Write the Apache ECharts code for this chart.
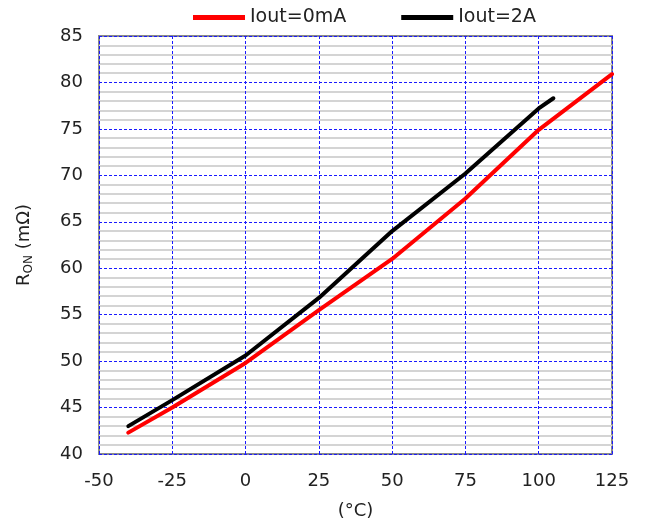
<!DOCTYPE html>
<html>
<head>
<meta charset="utf-8">
<script src="https://cdn.jsdelivr.net/npm/echarts@6/dist/echarts.min.js"></script>
<style>html,body{margin:0;padding:0;background:#fff}#c{width:646px;height:525px}</style>
</head>
<body>
<div id="c"></div>
<script>
const seriesNames = ['Iout=0mA', 'Iout=2A'];
const tempRed = [-40, -25, 0, 25, 50, 75, 100, 125];
const ronRed = [42.3, 45.0, 49.8, 55.5, 61.0, 67.5, 74.9, 80.9];
const tempBlack = [-40, -25, 0, 25, 50, 75, 100, 105];
const ronBlack = [43.0, 45.8, 50.6, 56.8, 64.0, 70.2, 77.2, 78.3];
const xTicks = [-50, -25, 0, 25, 50, 75, 100, 125];
const yTicks = [40, 45, 50, 55, 60, 65, 70, 75, 80, 85];

const font = 'DejaVu Sans';
const chart = echarts.init(document.getElementById('c'));
chart.setOption({
  animation: false,
  textStyle: { fontFamily: font },
  legend: {
    top: 3,
    left: 188,
    itemWidth: 52,
    itemHeight: 5,
    itemGap: 55,
    icon: 'rect',
    textStyle: { fontFamily: font, fontSize: 19, color: '#222' },
    data: seriesNames
  },
  grid: {
    left: 99, right: 34, top: 36, bottom: 70,
    show: true, borderColor: '#8a8a8a', borderWidth: 2, backgroundColor: 'transparent'
  },
  xAxis: {
    type: 'value',
    min: xTicks[0], max: xTicks[xTicks.length - 1], interval: 25,
    name: '(°C)', nameLocation: 'middle', nameGap: 48,
    nameTextStyle: { fontFamily: font, fontSize: 18, color: '#222' },
    axisLine: { show: false },
    axisTick: { show: false },
    axisLabel: { fontFamily: font, fontSize: 18, color: '#222', margin: 18 },
    splitLine: { show: true, lineStyle: { color: '#1a1aff', width: 1, type: [3, 2] } }
  },
  yAxis: {
    type: 'value',
    min: yTicks[0], max: yTicks[yTicks.length - 1], interval: 5,
    name: '{r|R}{s|ON}{r| (mΩ)}', nameLocation: 'middle', nameGap: 64, nameRotate: 90,
    nameTextStyle: {
      rich: {
        r: { fontFamily: font, fontSize: 18, color: '#222' },
        s: { fontFamily: font, fontSize: 12, color: '#222', padding: [10, 0, 0, 0] }
      }
    },
    axisLine: { show: false },
    axisTick: { show: false },
    axisLabel: { fontFamily: font, fontSize: 18, color: '#222', margin: 16 },
    minorTick: { show: false, splitNumber: 5 },
    minorSplitLine: { show: true, lineStyle: { color: '#d4d4d4', width: 2 } },
    splitLine: { show: true, lineStyle: { color: '#1a1aff', width: 1, type: [3, 2] } }
  },
  series: [
    {
      name: seriesNames[0], type: 'line', showSymbol: false, symbol: 'none',
      lineStyle: { color: '#ff0000', width: 4, cap: 'round' }, itemStyle: { color: '#ff0000' },
      data: tempRed.map((t, i) => [t, ronRed[i]]), z: 3
    },
    {
      name: seriesNames[1], type: 'line', showSymbol: false, symbol: 'none',
      lineStyle: { color: '#000000', width: 4, cap: 'round' }, itemStyle: { color: '#000000' },
      data: tempBlack.map((t, i) => [t, ronBlack[i]]), z: 4
    }
  ]
});
</script>
</body>
</html>
